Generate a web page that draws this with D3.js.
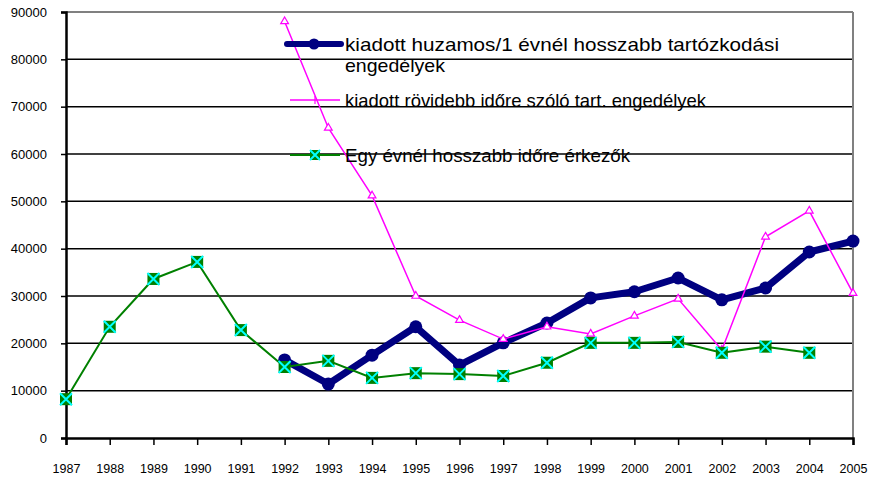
<!DOCTYPE html>
<html lang="hu">
<head>
<meta charset="UTF-8">
<title>engedélyek</title>
<script src="https://d3js.org/d3.v7.min.js"></script>
<style>
  body { margin: 0; background: #fff; }
  text { font-family: "Liberation Sans", Arial, sans-serif; fill: #000; }
  .legend { font-size: 19px; }
</style>
</head>
<body>
<svg id="chart" width="872" height="477"></svg>
<script>
// data
const years = d3.range(1987, 2006);
const yTicks = [0, 10000, 20000, 30000, 40000, 50000, 60000, 70000, 80000, 90000];

const huzamos = [null, null, null, null, null,
  16500, 11400, 17500, 23500, 15400, 20100, 24300, 29600, 30900, 33800, 29200, 31700, 39300, 41600];
const rovidebb = [null, null, null, null, null,
  88000, 65500, 51200, 30000, 24900, 20900, 23500, 22000, 25800, 29400, 18600, 42500, 48000, 30600];
const erkezok = [8200, 23500, 33600, 37200, 22800,
  15000, 16300, 12700, 13700, 13500, 13100, 15900, 20100, 20100, 20300, 18000, 19300, 18000, null];

const labels = [
  ["kiadott huzamos/1 évnél hosszabb tartózkodási", "engedélyek"],
  ["kiadott rövidebb időre szóló tart. engedélyek"],
  ["Egy évnél hosszabb időre érkezők"]
];

const svg = d3.select("#chart");
const mLeft = 66, mRight = 853, mTop = 12, mBottom = 438;

const x = d3.scaleLinear().domain([1987, 2005]).range([mLeft, mRight]);
const y = d3.scaleLinear().domain([0, 90000]).range([mBottom, mTop]);

// gridlines
svg.append("g")
  .selectAll("line")
  .data(yTicks.filter(d => d > 0 && d < 90000))
  .join("line")
  .attr("x1", mLeft).attr("x2", mRight)
  .attr("y1", d => y(d)).attr("y2", d => y(d))
  .attr("stroke", "#000").attr("stroke-width", 1.5);

// frame top/right
svg.append("line").attr("x1", mLeft).attr("x2", mRight).attr("y1", mTop).attr("y2", mTop)
  .attr("stroke", "#808080").attr("stroke-width", 2);
svg.append("line").attr("x1", mRight).attr("x2", mRight).attr("y1", mTop).attr("y2", mBottom)
  .attr("stroke", "#808080").attr("stroke-width", 2);

// axes
const yAxis = svg.append("g")
  .attr("transform", `translate(${mLeft},0)`)
  .call(d3.axisLeft(y).tickValues(yTicks).tickSize(5).tickPadding(14).tickFormat(d3.format("d")));
const xAxis = svg.append("g")
  .attr("transform", `translate(0,${mBottom})`)
  .call(d3.axisBottom(x).tickValues(years).tickSize(7).tickPadding(19).tickFormat(d3.format("d")));

yAxis.selectAll("text").style("font-size", "13px").style("font-family", "Liberation Sans, Arial, sans-serif");
xAxis.selectAll("text").style("font-size", "12.5px").style("font-family", "Liberation Sans, Arial, sans-serif");
[yAxis, xAxis].forEach(a => {
  a.select(".domain").attr("stroke", "#000").attr("stroke-width", 2.5);
  a.selectAll(".tick line").attr("stroke", "#000").attr("stroke-width", 1.5);
});

const line = d3.line()
  .defined(d => d.v != null)
  .x(d => x(d.year)).y(d => y(d.v));

function pts(arr) { return years.map((yr, i) => ({ year: yr, v: arr[i] })); }

// series 1: navy thick line with circles
svg.append("path").datum(pts(huzamos)).attr("d", line)
  .attr("fill", "none").attr("stroke", "#000080").attr("stroke-width", 7)
  .attr("stroke-linejoin", "round");
svg.append("g").selectAll("circle")
  .data(pts(huzamos).filter(d => d.v != null)).join("circle")
  .attr("cx", d => x(d.year)).attr("cy", d => y(d.v)).attr("r", 6.5)
  .attr("fill", "#000080");

// series 2: magenta thin line with open triangles
const tri = d3.symbol().type(d3.symbolTriangle).size(26);
svg.append("path").datum(pts(rovidebb)).attr("d", line)
  .attr("fill", "none").attr("stroke", "#ff00ff").attr("stroke-width", 1.5);
svg.append("g").selectAll("path")
  .data(pts(rovidebb).filter(d => d.v != null)).join("path")
  .attr("d", tri)
  .attr("transform", d => `translate(${x(d.year)},${y(d.v)})`)
  .attr("fill", "#fff").attr("stroke", "#ff00ff").attr("stroke-width", 1.2);

// series 3: green line, green square with cyan cross
svg.append("path").datum(pts(erkezok)).attr("d", line)
  .attr("fill", "none").attr("stroke", "#008000").attr("stroke-width", 2);
function boxX(g, s) {
  g.append("rect").attr("x", -s).attr("y", -s).attr("width", 2 * s).attr("height", 2 * s)
    .attr("fill", "#008000");
  g.append("path").attr("d", `M${-s},${-s}L${s},${s}M${-s},${s}L${s},${-s}`)
    .attr("stroke", "#00ffff").attr("stroke-width", 2);
}
svg.append("g").selectAll("g")
  .data(pts(erkezok).filter(d => d.v != null)).join("g")
  .attr("transform", d => `translate(${x(d.year)},${y(d.v)})`)
  .each(function () { boxX(d3.select(this), 6); });

// legend
const lg = svg.append("g");
const l1 = lg.append("g").attr("transform", "translate(287,44)");
l1.append("line").attr("x1", 0).attr("x2", 54).attr("stroke", "#000080").attr("stroke-width", 6)
  .attr("stroke-linecap", "round");
l1.append("circle").attr("cx", 27).attr("r", 5.5).attr("fill", "#000080");
l1.append("text").attr("class", "legend").attr("x", 58).attr("y", 7)
  .attr("textLength", 434).attr("lengthAdjust", "spacingAndGlyphs").text(labels[0][0]);
l1.append("text").attr("class", "legend").attr("x", 58).attr("y", 28)
  .attr("textLength", 100).attr("lengthAdjust", "spacingAndGlyphs").text(labels[0][1]);

const l2 = lg.append("g").attr("transform", "translate(290,100)");
l2.append("line").attr("x1", 0).attr("x2", 50).attr("stroke", "#ff00ff").attr("stroke-width", 1.5);
l2.append("line").attr("x1", 25).attr("x2", 25).attr("y1", -4).attr("y2", 4)
  .attr("stroke", "#ff00ff").attr("stroke-width", 1.2);
l2.append("text").attr("class", "legend").attr("x", 55).attr("y", 7)
  .attr("textLength", 361).attr("lengthAdjust", "spacingAndGlyphs").text(labels[1][0]);

const l3 = lg.append("g").attr("transform", "translate(290,155)");
l3.append("line").attr("x1", 0).attr("x2", 50).attr("stroke", "#008000").attr("stroke-width", 2);
boxX(l3.append("g").attr("transform", "translate(25,0)"), 5);
l3.append("text").attr("class", "legend").attr("x", 55).attr("y", 7)
  .attr("textLength", 285).attr("lengthAdjust", "spacingAndGlyphs").text(labels[2][0]);
</script>
</body>
</html>
